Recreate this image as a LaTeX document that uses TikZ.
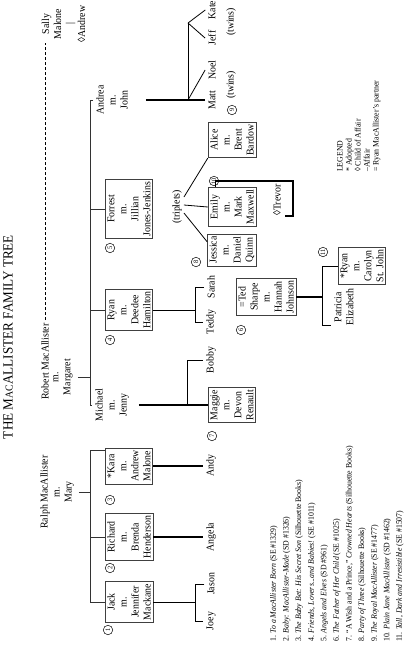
\documentclass[tikz,border=0pt]{standalone}
\usepackage{fontspec}
\setmainfont{Liberation Serif}[FakeStretch=0.94]
\usetikzlibrary{calc}
\newcommand{\pfont}{\fontsize{10.5}{12}\selectfont}
\begin{document}
\begin{tikzpicture}[x=1pt,y=-1pt,
  person/.style={rotate=90,align=center,inner sep=0pt,font=\pfont},
  famb/.style={person,draw=black!75,line width=0.7pt,inner xsep=2.2pt,inner ysep=2.2pt},
  num/.style={rotate=90,circle,draw,line width=0.5pt,inner sep=0pt,minimum size=9.5pt,font=\fontsize{6.8}{6.8}\selectfont},
  ln/.style={line width=0.8pt},
  bar/.style={line width=0.9pt,draw=black!80},
  tk/.style={line width=2.2pt},
  md/.style={line width=1.4pt}]
\fill[white] (0,0) rectangle (408,646);
\useasboundingbox (0,0) rectangle (408,646);

% title
\node[rotate=90,inner sep=0pt,font=\fontsize{14}{14}\selectfont] (title) at (8,337) {THE M{\fontsize{10.5}{10}\selectfont AC}ALLISTER FAMILY TREE};

% generation 1
\node[person] (ralph) at (57,492) {Ralph MacAllister\\m.\\Mary};
\node[person,anchor=west] (robert) at (45,400) {Robert MacAllister};
\node[person] (margaret) at (63,377) {m.\\Margaret};
\node[person] (sally) at (63.5,24) {Sally\\Malone\\|\\◊Andrew};
\draw[ln,dash pattern=on 3pt off 2pt] ([yshift=3pt]robert.east) -- (robert.east |- sally.west);

% Ralph's children
\node[famb] (kara) at (129,466) {*Kara\\m.\\Andrew\\Malone};
\node[famb] (richard) at (129,537) {Richard\\m.\\Brenda\\Henderson};
\node[famb] (jack) at (129,602) {Jack\\m.\\Jennifer\\Mackane};
\coordinate (rb) at (90,0);
\draw[bar] ([xshift=5pt]ralph.south) -- (rb |- ralph.south);
\draw[bar] ([yshift=-3pt]kara.north east) -| (rb |- jack.north) -- (jack.north);
\draw[bar] (richard.north) -- (rb |- richard.north);
\node[num] (n1) at (108,630) {1};
\node[num] (n2) at (110,568) {2};
\node[num] (n3) at (110,500) {3};

% Robert's children
\node[person] (andrea) at (112,100) {Andrea\\m.\\John};
\node[famb] (forrest) at (129,209) {Forrest\\m.\\Jillian\\Jones-Jenkins};
\node[famb] (ryan) at (129,310) {Ryan\\m.\\Deedee\\Hamilton};
\node[person] (michael) at (112,405) {Michael\\m.\\Jenny};
\coordinate (mb) at (90,0);
\draw[bar] ([xshift=5pt]margaret.south) -- (mb |- margaret.south);
\draw[bar] ([xshift=-3pt]andrea.north) -| (mb |- michael.north) -- ([xshift=-3pt]michael.north);
\draw[bar] (forrest.north) -- (mb |- forrest.north);
\draw[bar] (ryan.north) -- (mb |- ryan.north);
\node[num] (n4) at (110,340) {4};
\node[num] (n5) at (110,248) {5};

% Jack's children
\node[person] (jason) at (211,584) {Jason};
\node[person] (joey) at (211,621) {Joey};
\coordinate (jb) at (195,0);
\draw[ln] (jack.south) -- (jb |- jack.south);
\draw[ln] ([xshift=-3pt]jason.north) -| (jb |- joey.north) -- ([xshift=-3pt]joey.north);
% Richard's child
\node[person] (angela) at (211,537) {Angela};
\draw[tk] (richard.south) -- ([xshift=-3pt]angela.north);
% Kara's child
\node[person] (andy) at (211,466) {Andy};
\draw[md] (kara.south) -- ([xshift=-3pt]andy.north);

% Michael's children
\node[famb] (maggie) at (232,405) {Maggie\\m.\\Devon\\Renault};
\node[person] (bobby) at (211,360) {Bobby};
\coordinate (bj) at (187,405);
\draw[tk] ([xshift=10pt]michael.south) -- (maggie.north);
\draw[ln] (bj) |- ([xshift=-3pt]bobby.north);
\node[num] (n7) at (212,436) {7};

% Ryan's children
\node[person] (sarah) at (211,287) {Sarah};
\node[person] (teddy) at (211,322) {Teddy};
\draw[ln] (ryan.south) -- (jb |- ryan.south);
\draw[ln] ([xshift=-3pt]sarah.north) -| (jb |- teddy.north) -- ([xshift=-3pt]teddy.north);

% Ted Sharpe
\node[famb] (ted) at (266,297) {=Ted\\Sharpe\\m.\\Hannah\\Johnson};
\node[num] (n6) at (241,330) {6};
\node[famb] (ryanb) at (362,266) {*Ryan\\m.\\Carolyn\\St. John};
\node[person] (patricia) at (344,307) {Patricia\\Elizabeth};
\node[num] (n11) at (323,252) {11};
\coordinate (tb) at (322,0);
\draw[tk] (ted.south) -- (tb |- ted.south);
\draw[ln] (ryanb.north) -| (tb |- patricia.north west) -- ([xshift=-3pt]patricia.north west);

% Forrest's triplets
\node[person] (trip) at (177,207) {(triplets)};
\node[famb] (alice) at (232,140) {Alice\\m.\\Brent\\Bardow};
\node[famb] (emily) at (232,207) {Emily\\m.\\Mark\\Maxwell};
\node[famb] (jessica) at (232,250) {Jessica\\m.\\Daniel\\Quinn};
\draw[ln] ([xshift=2pt,yshift=10pt]trip.south) -- (alice.north west);
\draw[ln] ([xshift=2pt,yshift=2pt]trip.south) -- (emily.north);
\draw[ln] ([xshift=2pt,yshift=-6pt]trip.south) -- ([yshift=-8pt]jessica.north east);
\node[num] (n8) at (196,262) {8};
\node[num] (n9) at (232,110) {9};
\node[num] (n10) at (214,181) {10};

% Trevor
\node[person] (trevor) at (277,200) {◊Trevor};
\coordinate (tv) at (293,0);
\draw[md] ([xshift=8pt]emily.north east) |- ([yshift=6pt]emily.north east -| tv) |- ([xshift=4pt]trevor.south west);

% Andrea's children
\node[person] (matt) at (212,100) {Matt};
\node[person] (noel) at (212,70) {Noel};
\node[person] (jeff) at (212,38) {Jeff};
\node[person] (kate) at (212,10) {Kate};
\node[person] (twa) at (231,85) {(twins)};
\node[person] (twb) at (231,22) {(twins)};
\coordinate (aj1) at (188,100);
\coordinate (aj2) at (188,23);
\draw[tk] ([xshift=18pt]andrea.south) -- ([xshift=-3pt]matt.north);
\draw[ln] (aj1) -- ([xshift=-3pt]noel.north);
\draw[ln] (aj1) -- (aj2);
\draw[ln] (aj2) -- ([xshift=-3pt]jeff.north);
\draw[ln] (aj2) -- ([xshift=-3pt]kate.north);

% legend
\node[rotate=90,align=left,inner sep=0pt,anchor=north west,font=\fontsize{8.3}{9}\selectfont] (legend) at (337,172)
 {LEGEND\\* Adopted\\◊ Child of Affair\\--Affair\\= Ryan MacAllister's partner};

% bibliography
\node[rotate=90,align=left,inner sep=0pt,anchor=north west,font=\fontsize{8.3}{12.6}\selectfont] (biblio) at (270,642)
 {1. \textit{To a MacAllister Born} (SE \#1329)\\
  2. \textit{Baby: MacAllister-Made} (SD \#1326)\\
  3. \textit{The Baby Bet: His Secret Son} (Silhouette Books)\\
  4. \textit{Friends, Lovers...and Babies!} (SE \#1011)\\
  5. \textit{Angels and Elves} (SD \#961)\\
  6. \textit{The Father of Her Child} (SE \#1025)\\
  7. ``A Wish and a Prince,'' \textit{Crowned Hearts} (Silhouette Books)\\
  8. \textit{Party of Three} (Silhouette Books)\\
  9. \textit{The Royal MacAllister} (SE \#1477)\\
  10. \textit{Plain Jane MacAllister} (SD \#1462)\\
  11. \textit{Tall, Dark and Irresistible} (SE \#1507)};
\end{tikzpicture}
\end{document}
